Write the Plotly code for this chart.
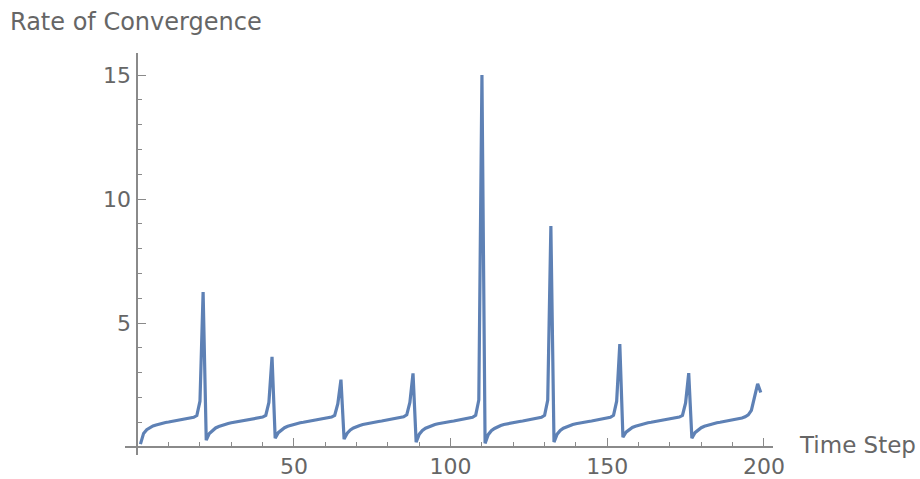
import plotly.graph_objects as go

# ---------------- data ----------------
time_steps = list(range(1, 200))

seg0 = [0.12, 0.55, 0.70, 0.79, 0.85, 0.89, 0.93, 0.96, 0.99, 1.01,
        1.03, 1.05, 1.07, 1.09, 1.11, 1.13, 1.16, 1.20, 1.27, 1.85]
peak1 = [6.25]
seg1 = [0.28, 0.55, 0.68, 0.77, 0.83, 0.88, 0.92, 0.95, 0.98, 1.00,
        1.02, 1.04, 1.06, 1.08, 1.10, 1.12, 1.14, 1.17, 1.21, 1.28, 1.80]
peak2 = [3.64]
seg2 = [0.36, 0.58, 0.70, 0.78, 0.84, 0.88, 0.92, 0.95, 0.98, 1.00,
        1.02, 1.04, 1.06, 1.08, 1.10, 1.12, 1.14, 1.17, 1.21, 1.28, 1.75]
peak3 = [2.72]
seg3 = [0.32, 0.56, 0.69, 0.77, 0.83, 0.87, 0.91, 0.94, 0.97, 0.99,
        1.01, 1.03, 1.05, 1.07, 1.09, 1.11, 1.13, 1.15, 1.18, 1.22, 1.30, 1.80]
peak4 = [2.97]
seg4 = [0.20, 0.52, 0.67, 0.76, 0.82, 0.87, 0.91, 0.94, 0.97, 0.99,
        1.01, 1.03, 1.05, 1.07, 1.09, 1.11, 1.13, 1.16, 1.20, 1.28, 1.90]
peak5 = [15.0]
seg5 = [0.15, 0.50, 0.66, 0.75, 0.82, 0.87, 0.91, 0.94, 0.97, 0.99,
        1.01, 1.03, 1.05, 1.07, 1.09, 1.11, 1.13, 1.16, 1.20, 1.28, 1.90]
peak6 = [8.91]
seg6 = [0.20, 0.52, 0.67, 0.76, 0.82, 0.87, 0.91, 0.94, 0.97, 0.99,
        1.01, 1.03, 1.05, 1.07, 1.09, 1.11, 1.13, 1.16, 1.20, 1.28, 1.85]
peak7 = [4.15]
seg7 = [0.40, 0.60, 0.71, 0.79, 0.84, 0.88, 0.92, 0.95, 0.98, 1.00,
        1.02, 1.04, 1.06, 1.08, 1.10, 1.12, 1.14, 1.17, 1.21, 1.28, 1.78]
peak8 = [2.98]
seg8 = [0.36, 0.58, 0.70, 0.78, 0.84, 0.88, 0.92, 0.95, 0.98, 1.00,
        1.02, 1.04, 1.06, 1.08, 1.10, 1.13, 1.17, 1.22, 1.30, 1.48, 2.05]
tail = [2.55, 2.20]

rate = (seg0 + peak1 + seg1 + peak2 + seg2 + peak3 + seg3 + peak4 + seg4 +
        peak5 + seg5 + peak6 + seg6 + peak7 + seg7 + peak8 + seg8 + tail)

x_tickvals = [50, 100, 150, 200]
y_tickvals = [5, 10, 15]

# ---------------- layout constants ----------------
W, H = 920, 479
ML, MR, MT, MB = 125, 147, 53, 24
XR = [-3.93, 202.9]
YR = [-0.32, 15.89]

AXIS_COL = "#8a8a8a"
TEXT_COL = "#666666"
LINE_COL = "#5E81B5"
FONT = "DejaVu Sans"

plot_w = W - ML - MR
plot_h = H - MT - MB


def px_to_paper_x(px):
    return (px - ML) / plot_w


def px_to_paper_y(py):
    return (H - MB - py) / plot_h


fig = go.Figure()
fig.add_trace(go.Scatter(
    x=time_steps, y=rate, mode="lines",
    line=dict(color=LINE_COL, width=3.2),
    hoverinfo="skip", showlegend=False,
))

xpos = (0 - YR[0]) / (YR[1] - YR[0])
ypos = (0 - XR[0]) / (XR[1] - XR[0])

fig.update_layout(
    template="none",
    width=W, height=H,
    margin=dict(l=ML, r=MR, t=MT, b=MB, pad=0),
    paper_bgcolor="white", plot_bgcolor="white",
    showlegend=False,
    xaxis=dict(
        range=XR, anchor="free", position=xpos, automargin=False,
        showgrid=False, zeroline=False,
        showline=True, linecolor=AXIS_COL, linewidth=1.6,
        tickmode="array", tickvals=x_tickvals,
        ticks="inside", ticklen=8, tickwidth=1.4, tickcolor=AXIS_COL,
        tickfont=dict(family=FONT, size=22, color=TEXT_COL),
        ticklabelstandoff=0,
        minor=dict(ticks="inside", ticklen=4, tickwidth=1.2,
                   tickcolor=AXIS_COL, dtick=10, tick0=0, showgrid=False),
    ),
    yaxis=dict(
        range=YR, anchor="free", position=ypos, automargin=False,
        showgrid=False, zeroline=False,
        showline=True, linecolor=AXIS_COL, linewidth=1.6,
        tickmode="array", tickvals=y_tickvals,
        ticks="inside", ticklen=8, tickwidth=1.4, tickcolor=AXIS_COL,
        tickfont=dict(family=FONT, size=22, color=TEXT_COL),
        ticklabelstandoff=1,
        minor=dict(ticks="inside", ticklen=4, tickwidth=1.2,
                   tickcolor=AXIS_COL, dtick=1, tick0=0, showgrid=False),
    ),
    annotations=[
        dict(text="Rate of Convergence", xref="paper", yref="paper",
             x=px_to_paper_x(8), y=px_to_paper_y(22),
             xanchor="left", yanchor="middle", showarrow=False,
             font=dict(family=FONT, size=24, color=TEXT_COL)),
        dict(text="Time Step", xref="paper", yref="paper",
             x=px_to_paper_x(797), y=px_to_paper_y(445),
             xanchor="left", yanchor="middle", showarrow=False,
             font=dict(family=FONT, size=23, color=TEXT_COL)),
    ],
)

fig.write_html(
    "out.html",
    config={"displayModeBar": False},
    post_script="document.body.style.margin='0';"
                "document.body.style.overflow='hidden';",
)
